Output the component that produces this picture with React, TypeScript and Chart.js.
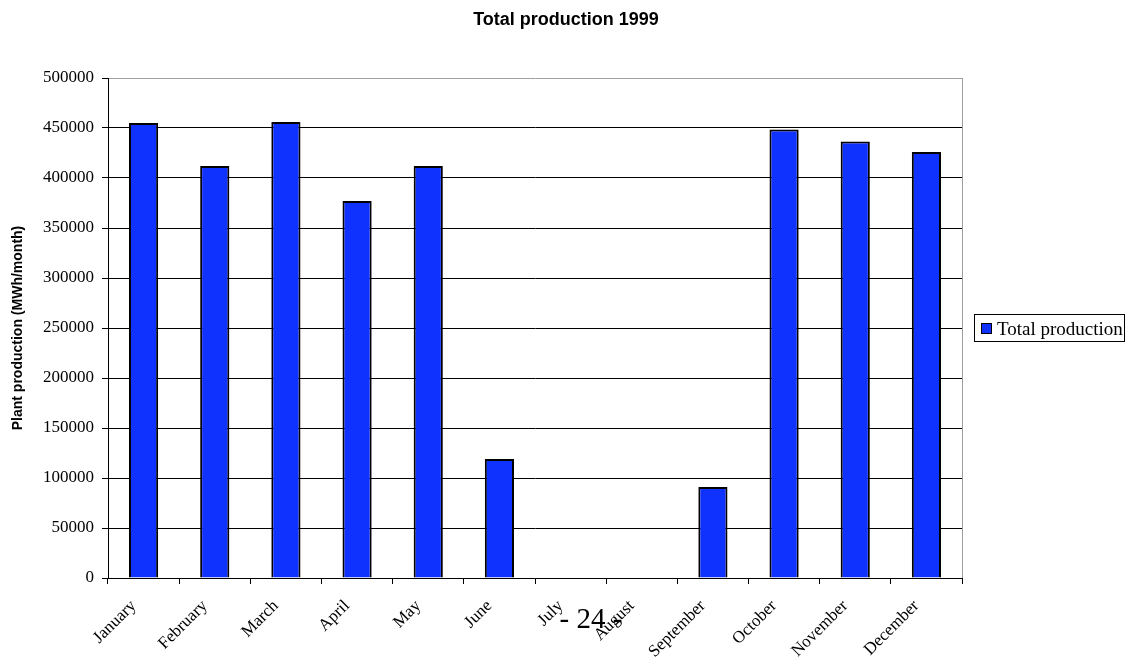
import { useEffect, useRef } from "react";
import { Chart, registerables } from "chart.js";

Chart.register(...registerables);

// Monthly plant output for 1999 (MWh/month)
const months = [
  "January", "February", "March", "April", "May", "June",
  "July", "August", "September", "October", "November", "December",
];
const totalProduction = [
  455000, 412000, 456000, 377000, 412000, 119000,
  0, 0, 91000, 448500, 436500, 426000,
];
const yMin = 0;
const yMax = 500000;
const yStep = 50000;

const chartTitle = "Total production 1999";
const yAxisTitle = "Plant production (MWh/month)";
const seriesName = "Total production";
const pageNumber = "- 24 -";

const BAR_BLUE = "#0f32ff";
const SERIF = "'Liberation Serif', 'Times New Roman', serif";
const SANS = "'Liberation Sans', Arial, sans-serif";

// Draws the heading, the plot frame, the boxed legend and the page footer.
const decorations = {
  id: "decorations",
  afterDraw(chart: any) {
    const { ctx, chartArea } = chart;
    ctx.save();

    // right edge of the plot frame
    ctx.strokeStyle = "#a0a0a0";
    ctx.lineWidth = 1;
    ctx.beginPath();
    ctx.moveTo(Math.round(chartArea.right) + 0.5, chartArea.top);
    ctx.lineTo(Math.round(chartArea.right) + 0.5, chartArea.bottom);
    ctx.stroke();

    // heading
    ctx.fillStyle = "#000";
    ctx.font = `bold 18px ${SANS}`;
    ctx.textAlign = "center";
    ctx.textBaseline = "middle";
    ctx.fillText(chartTitle, 566, 20);

    // legend box
    ctx.strokeStyle = "#000";
    ctx.lineWidth = 1;
    ctx.strokeRect(974.5, 314.5, 150, 27);
    ctx.fillStyle = BAR_BLUE;
    ctx.fillRect(981, 323, 11, 11);
    ctx.strokeRect(981.5, 323.5, 10, 10);
    ctx.fillStyle = "#000";
    ctx.font = `19px ${SERIF}`;
    ctx.textAlign = "left";
    ctx.textBaseline = "alphabetic";
    ctx.fillText(seriesName, 997, 335);

    // page footer
    ctx.font = `29px ${SERIF}`;
    ctx.textAlign = "center";
    ctx.textBaseline = "middle";
    ctx.fillText(pageNumber, 591, 620);

    ctx.restore();
  },
};

export default function App() {
  const canvasRef = useRef<HTMLCanvasElement | null>(null);

  useEffect(() => {
    document.body.style.margin = "0";
    const canvas = canvasRef.current;
    if (!canvas) return;

    const chart = new Chart(canvas, {
      type: "bar",
      data: {
        labels: months,
        datasets: [
          {
            label: seriesName,
            data: totalProduction,
            backgroundColor: BAR_BLUE,
            borderColor: "#000",
            borderWidth: 2,
            borderSkipped: "bottom",
            barPercentage: 0.41,
            categoryPercentage: 1,
          },
        ],
      },
      options: {
        responsive: false,
        animation: false,
        layout: { padding: { top: 78, right: 171, left: 0, bottom: 0 } },
        plugins: {
          legend: { display: false },
          title: { display: false },
          tooltip: { enabled: false },
        },
        scales: {
          x: {
            offset: true,
            grid: {
              offset: true,
              drawOnChartArea: false,
              drawTicks: true,
              tickLength: 6,
              tickColor: "#000",
            },
            border: { display: true, color: "#000", width: 1 },
            ticks: {
              autoSkip: false,
              maxRotation: 45,
              minRotation: 45,
              padding: 12,
              labelOffset: -10,
              color: "#000",
              font: { family: SERIF, size: 17 },
            },
            afterFit(scale: any) {
              scale.height = 84;
              scale.paddingLeft = 0;
              scale.paddingRight = 0;
            },
          },
          y: {
            min: yMin,
            max: yMax,
            grid: {
              color: (c: any) => (c.tick && c.tick.value === yMax ? "#a0a0a0" : "#000"),
              lineWidth: 1,
              drawTicks: true,
              tickLength: 6,
              tickColor: "#000",
            },
            border: { display: true, color: "#000", width: 1 },
            ticks: {
              stepSize: yStep,
              padding: 8,
              color: "#000",
              font: { family: SERIF, size: 17 },
              callback: (v: any) => String(v),
            },
            title: {
              display: true,
              text: yAxisTitle,
              color: "#000",
              font: { family: SANS, size: 14, weight: "bold" },
              padding: { top: 10, bottom: 0 },
            },
            afterFit(scale: any) {
              scale.width = 108;
              scale.paddingTop = 0;
              scale.paddingBottom = 0;
            },
          },
        },
      },
      plugins: [decorations],
    });

    return () => chart.destroy();
  }, []);

  return (
    <div style={{ position: "absolute", left: 0, top: 0, width: 1133, height: 662, background: "#fff" }}>
      <canvas ref={canvasRef} width={1133} height={662} />
    </div>
  );
}
